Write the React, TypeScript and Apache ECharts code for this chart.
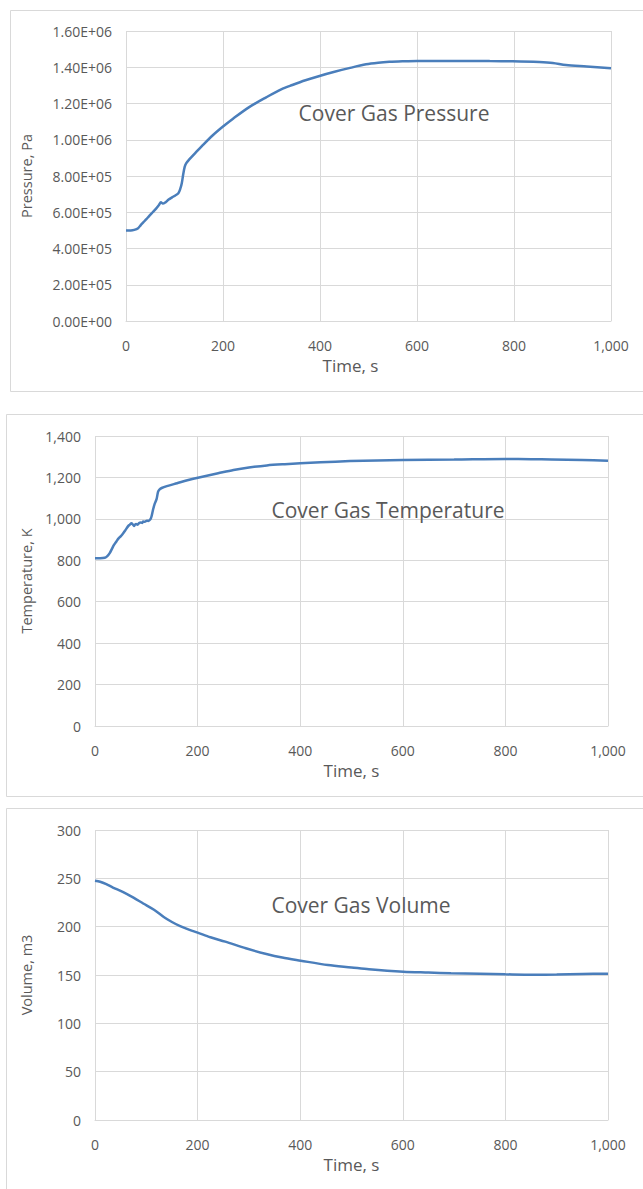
import React, { useEffect, useRef } from "react";
import * as echarts from "echarts";

// Cover gas transient: time (s) against pressure, temperature and volume
const pressureTime = [0, 10, 17, 25, 30, 36, 42, 48, 55, 62, 68, 72, 76, 80, 88, 95, 100, 108, 112, 115, 118, 121, 124, 130, 144, 160, 179, 200, 220, 254, 289, 320, 343, 370, 399, 430, 460, 495, 520, 543, 570, 600, 650, 700, 750, 797, 852, 880, 907, 950, 1000];
const pressurePa = [5.0e5, 5.0e5, 5.03e5, 5.12e5, 5.28e5, 5.45e5, 5.62e5, 5.8e5, 6.0e5, 6.2e5, 6.4e5, 6.55e5, 6.48e5, 6.52e5, 6.7e5, 6.82e5, 6.9e5, 7.05e5, 7.3e5, 7.6e5, 8.1e5, 8.5e5, 8.7e5, 8.9e5, 9.3e5, 9.75e5, 1.025e6, 1.073e6, 1.115e6, 1.18e6, 1.234e6, 1.278e6, 1.302e6, 1.328e6, 1.352e6, 1.375e6, 1.395e6, 1.416e6, 1.425e6, 1.43e6, 1.433e6, 1.435e6, 1.435e6, 1.435e6, 1.434e6, 1.433e6, 1.429e6, 1.424e6, 1.412e6, 1.404e6, 1.394e6];

const temperatureTime = [0, 10, 19, 24, 29, 33, 37, 42, 46, 50, 55, 60, 65, 68, 71, 74, 76, 78, 80, 83, 86, 89, 92, 94, 97, 101, 104, 108, 110, 113, 116, 120, 123, 126, 130, 140, 160, 180, 205, 240, 270, 300, 335, 370, 400, 440, 497, 550, 600, 700, 800, 850, 890, 950, 1000];
const temperatureK = [810, 810, 812, 820, 836, 855, 874, 892, 906, 915, 930, 948, 966, 972, 979, 972, 966, 972, 975, 972, 980, 983, 980, 987, 986, 991, 990, 998, 1010, 1043, 1070, 1095, 1131, 1142, 1149, 1158, 1172, 1186, 1201, 1220, 1236, 1248, 1258, 1264, 1268, 1273, 1279, 1282, 1284, 1286, 1289, 1288, 1287, 1284, 1281];

const volumeTime = [0, 10, 22, 35, 54, 75, 94, 115, 134, 150, 166, 183, 200, 225, 254, 294, 334, 365, 401, 454, 500, 534, 601, 650, 694, 750, 800, 854, 900, 950, 1000];
const volumeM3 = [247.6, 246.5, 244, 240.5, 236, 230, 224, 217.5, 210, 204.8, 200.5, 196.9, 193.8, 189, 184.5, 177.6, 171.7, 168, 164.8, 160.3, 157.8, 155.9, 153.4, 152.5, 151.7, 151.2, 150.7, 150.3, 150.5, 151, 151.4];

const chartTitles = ["Cover Gas Pressure", "Cover Gas Temperature", "Cover Gas Volume"];
const yAxisNames = ["Pressure, Pa", "Temperature, K", "Volume, m3"];
const xAxisName = "Time, s";

const FONT = "'Open Sans', 'Noto Sans', sans-serif";
const TEXT = "#595959";
const GRID_LINE = "#d9d9d9";
const LINE = "#4a7ebb";

const pairs = (xs: number[], ys: number[]) => xs.map((x, i) => [x, ys[i]]);

const withCommas = (v: number) => v.toLocaleString("en-US");

const scientific = (v: number) => {
  const [m, e] = v.toExponential(2).split("e");
  const sign = e.startsWith("-") ? "-" : "+";
  const digits = e.replace(/^[+-]/, "").padStart(2, "0");
  return `${m}E${sign}${digits}`;
};

export default function App() {
  const ref = useRef<HTMLDivElement>(null);

  useEffect(() => {
    if (!ref.current) return;
    const chart = echarts.init(ref.current, undefined, { renderer: "svg" });

    const grids = [
      { left: 126, top: 31, width: 485, height: 290 },
      { left: 95, top: 436, width: 513, height: 290 },
      { left: 95, top: 830, width: 513, height: 290 },
    ];
    const yRanges = [
      { max: 1.6e6, interval: 2e5, fmt: scientific, gap: 92 },
      { max: 1400, interval: 200, fmt: withCommas, gap: 61 },
      { max: 300, interval: 50, fmt: withCommas, gap: 61 },
    ];
    // the first chart's time title sits a little left of its plot centre
    const xNamePadding = [
      [0, 36, 0, 0],
      [0, 0, 0, 0],
      [0, 0, 0, 0],
    ];
    const seriesData = [
      pairs(pressureTime, pressurePa),
      pairs(temperatureTime, temperatureK),
      pairs(volumeTime, volumeM3),
    ];
    const boxes = [
      { x: 10.5, y: 10.5, h: 381 },
      { x: 6.5, y: 414.5, h: 382 },
      { x: 6.5, y: 808.5, h: 420 },
    ];
    const titlePos = [
      { x: 394, y: 113 },
      { x: 388, y: 510 },
      { x: 361, y: 905 },
    ];

    const labelStyle = { color: TEXT, fontSize: 14, fontFamily: FONT };

    chart.setOption({
      animation: false,
      backgroundColor: "#ffffff",
      grid: grids.map((g) => ({ ...g, containLabel: false })),
      xAxis: grids.map((_, i) => ({
        type: "value",
        gridIndex: i,
        min: 0,
        max: 1000,
        interval: 200,
        name: xAxisName,
        nameLocation: "middle",
        nameGap: 36,
        nameTextStyle: { ...labelStyle, fontSize: 17, padding: xNamePadding[i] },
        axisLine: { show: true, lineStyle: { color: GRID_LINE, width: 1 } },
        axisTick: { show: false },
        axisLabel: { ...labelStyle, margin: 17, formatter: withCommas },
        splitLine: { show: true, lineStyle: { color: GRID_LINE, width: 1 } },
      })),
      yAxis: yRanges.map((r, i) => ({
        type: "value",
        gridIndex: i,
        min: 0,
        max: r.max,
        interval: r.interval,
        name: yAxisNames[i],
        nameLocation: "middle",
        nameRotate: 90,
        nameGap: r.gap,
        nameTextStyle: { ...labelStyle, fontSize: 14.5 },
        axisLine: { show: false },
        axisTick: { show: false },
        axisLabel: { ...labelStyle, margin: 14, formatter: r.fmt },
        splitLine: { show: true, lineStyle: { color: GRID_LINE, width: 1 } },
      })),
      series: seriesData.map((d, i) => ({
        type: "line",
        xAxisIndex: i,
        yAxisIndex: i,
        data: d,
        showSymbol: false,
        smooth: 0.3,
        lineStyle: { color: LINE, width: 2.5 },
        itemStyle: { color: LINE },
      })),
      graphic: [
        ...boxes.map((b) => ({
          type: "rect",
          z: -10,
          silent: true,
          shape: { x: b.x, y: b.y, width: 700, height: b.h },
          style: { fill: "none", stroke: GRID_LINE, lineWidth: 1 },
        })),
        ...titlePos.map((p, i) => ({
          type: "text",
          z: 10,
          x: p.x,
          y: p.y,
          style: {
            text: chartTitles[i],
            fill: TEXT,
            font: `21px ${FONT}`,
            textAlign: "center",
            textVerticalAlign: "middle",
          },
        })),
      ],
    });

    return () => chart.dispose();
  }, []);

  return (
    <div
      ref={ref}
      style={{ position: "absolute", left: 0, top: 0, width: 643, height: 1189, background: "#fff" }}
    />
  );
}
